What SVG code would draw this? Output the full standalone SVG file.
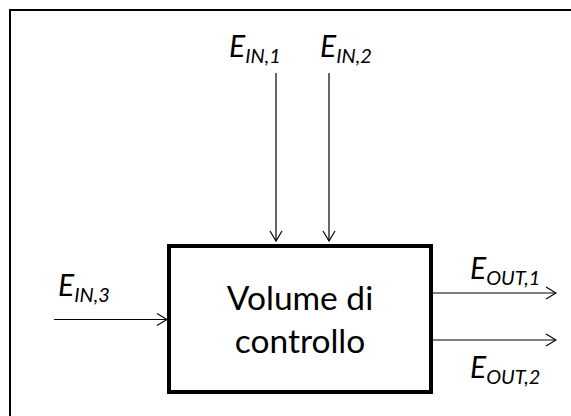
<svg xmlns="http://www.w3.org/2000/svg" width="571" height="416" viewBox="0 0 571 416">
<style>
.lbl{font-family:Lato,"Open Sans","Liberation Sans",sans-serif;font-style:italic;fill:#000}
.big{font-size:30px}
.sub{font-size:20px}
.main{font-family:Lato,"Open Sans","Liberation Sans",sans-serif;font-size:33.5px;fill:#000;text-anchor:middle}
.conn{stroke:#000;stroke-width:1.2;fill:none;marker-end:url(#arr)}
</style>
<defs>
<marker id="arr" viewBox="0 0 12 14" refX="11" refY="7" markerWidth="12" markerHeight="14" markerUnits="userSpaceOnUse" orient="auto">
<path d="M1,1 L11,7 L1,13" fill="none" stroke="#000" stroke-width="1.2"/>
</marker>
</defs>
<rect width="571" height="416" fill="#fff"/>
<path d="M10,416 V10 H571" fill="none" stroke="#000" stroke-width="2"/>
<g id="connectors">
<line class="conn" x1="276" y1="73" x2="276" y2="241"/>
<line class="conn" x1="329" y1="73" x2="329" y2="241"/>
<line class="conn" x1="54" y1="319.5" x2="167" y2="319.5"/>
<line class="conn" x1="431" y1="293" x2="556" y2="293"/>
<line class="conn" x1="431" y1="340" x2="556" y2="340"/>
</g>
<g id="volume">
<rect x="169" y="246" width="262" height="146" fill="#fff" stroke="#000" stroke-width="4"/>
<text class="main" x="300" y="310">Volume di</text>
<text class="main" x="300" y="353">controllo</text>
</g>
<g id="ein1"><text class="lbl" x="229" y="57"><tspan class="big">E</tspan><tspan class="sub" dy="6">IN,1</tspan></text></g>
<g id="ein2"><text class="lbl" x="320" y="57"><tspan class="big">E</tspan><tspan class="sub" dy="6">IN,2</tspan></text></g>
<g id="ein3"><text class="lbl" x="58" y="296"><tspan class="big">E</tspan><tspan class="sub" dy="6">IN,3</tspan></text></g>
<g id="eout1"><text class="lbl" x="470" y="279"><tspan class="big">E</tspan><tspan class="sub" dy="6">OUT,1</tspan></text></g>
<g id="eout2"><text class="lbl" x="470" y="378"><tspan class="big">E</tspan><tspan class="sub" dy="6">OUT,2</tspan></text></g>
</svg>
